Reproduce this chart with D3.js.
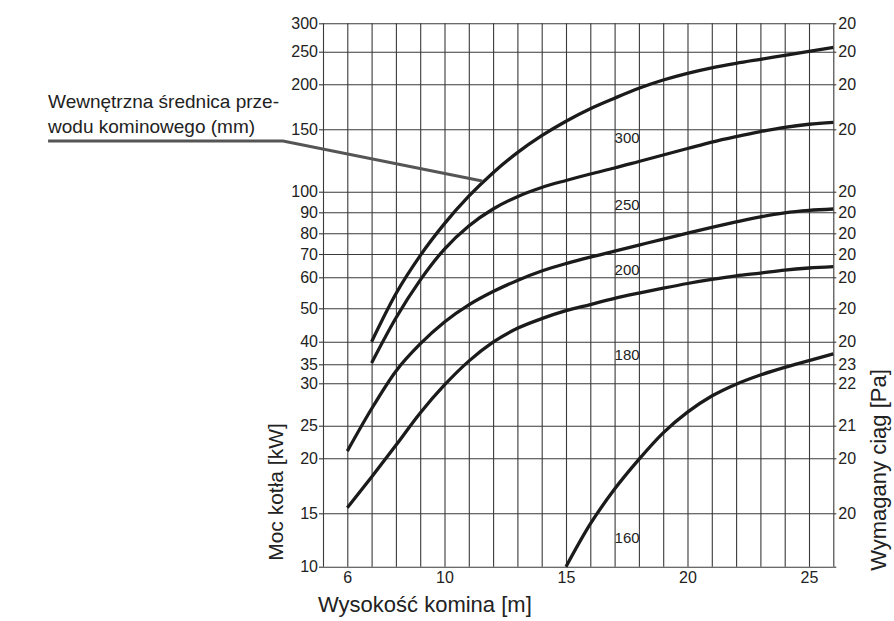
<!DOCTYPE html>
<html>
<head>
<meta charset="utf-8">
<script src="https://cdn.jsdelivr.net/npm/d3@7"></script>
<style>
    body { margin: 0; background: #fff; }
    text { font-family: "Liberation Sans", Arial, sans-serif; fill: #222; }
</style>
</head>
<body>
<svg id="chart" width="894" height="621"></svg>
<script>
// y axis values (the printed scale is not a clean log scale)
const yTicks = [300, 250, 200, 150, 100, 90, 80, 70, 60, 50, 40, 35, 30, 25, 20, 15, 10];
const rightLabels = ["20", "20", "20", "20", "20", "20", "20", "20", "20", "20", "20", "23", "22", "21", "20", "20", ""];
const xTickLabels = [6, 10, 15, 20, 25];

// curves: chimney inner diameter (mm)
const curveNames = ["300", "250", "200", "180", "160"];
const x300 = [7, 8, 9, 10, 11, 12, 13, 14, 15, 16, 17, 18, 19, 20, 21, 22, 23, 24, 25, 26];
const y300 = [40, 54.7, 69.3, 84.6, 97.8, 115.2, 131.3, 144.9, 159, 172.9, 184.6, 195.6, 206.6, 216.9, 225.3, 232.2, 238.3, 244.3, 250.4, 257.4];
const x250 = [7, 8, 9, 10, 11, 12, 13, 14, 15, 16, 17, 18, 19, 20, 21, 22, 23, 24, 25, 26];
const y250 = [35.3, 47.1, 59.1, 72.4, 83.5, 91.6, 97.6, 103.4, 109, 114.2, 119, 124.2, 129.4, 134.6, 139.8, 144.2, 148.2, 152.2, 155.6, 157.8];
const x200 = [6, 7, 8, 9, 10, 11, 12, 13, 14, 15, 16, 17, 18, 19, 20, 21, 22, 23, 24, 25, 26];
const y200 = [21.1, 27, 33.2, 39.5, 45.9, 51.1, 55.4, 59, 62.7, 65.9, 68.7, 71.4, 74.3, 77.2, 80.1, 82.8, 85.4, 87.8, 89.7, 90.9, 91.6];
const x180 = [6, 7, 8, 9, 10, 11, 12, 13, 14, 15, 16, 17, 18, 19, 20, 21, 22, 23, 24, 25, 26];
const y180 = [15.5, 18.3, 22, 26.5, 29.8, 35.7, 39.9, 44, 46.9, 49.3, 51.2, 53.2, 54.9, 56.5, 58, 59.3, 60.6, 61.8, 63.1, 64, 64.6];
const x160 = [15, 16, 17, 18, 19, 20, 21, 22, 23, 24, 25, 26];
const y160 = [10, 14, 17.2, 19.9, 23.9, 26.6, 28.5, 29.9, 32.2, 34.2, 35.8, 37.3];

const labelX = [17, 17, 17, 17, 17];
const labelY = [138.8, 91.1, 61, 36, 12.2];

// annotation target on the 300 mm curve
const noteTarget = [11.55, 108.5];
const noteLines = ["Wewnętrzna średnica prze-", "wodu kominowego (mm)"];

// layout
const plotLeft = 323, plotRight = 833.3, plotTop = 23.3, plotBottom = 566.7;
// pixel offset of each y tick from the top of the plot
const yTickPos = [0, 28.4, 61, 106, 168.4, 189, 210, 230.7, 254, 285, 318.4, 341, 360, 402.4, 435, 490, 543.4];

const svg = d3.select("#chart");
svg.append("rect").attr("width", 894).attr("height", 621).attr("fill", "#fff");

const x = d3.scaleLinear().domain([5, 26]).range([plotLeft, plotRight]);
const y = d3.scaleLinear().domain(yTicks).range(yTickPos.map(p => plotTop + p));

const gridColor = "#3a3a3a";
const font = "Liberation Sans, Arial, sans-serif";

// vertical grid
svg.append("g")
    .attr("transform", `translate(0,${plotBottom})`)
    .call(d3.axisBottom(x).tickValues(d3.range(5, 27)).tickSize(-(plotBottom - plotTop)).tickFormat(""))
    .call(g => g.select(".domain").remove())
    .call(g => g.selectAll("line").attr("stroke", gridColor).attr("stroke-width", 1.1));

// left axis + horizontal grid
svg.append("g")
    .attr("transform", `translate(${plotLeft},0)`)
    .call(d3.axisLeft(y).tickValues(yTicks).tickSize(4).tickPadding(1).tickFormat(d3.format("d")))
    .call(g => g.select(".domain").remove())
    .call(g => g.selectAll("line").attr("stroke", gridColor).attr("stroke-width", 1.1))
    .call(g => g.selectAll(".tick").append("line")
        .attr("x2", plotRight - plotLeft).attr("stroke", gridColor).attr("stroke-width", 1.1))
    .call(g => g.selectAll("text").attr("font-size", 16).attr("fill", "#222").attr("font-family", font));

// right axis
svg.append("g")
    .attr("transform", `translate(${plotRight},0)`)
    .call(d3.axisRight(y).tickValues(yTicks).tickSize(3).tickPadding(2).tickFormat((d, i) => rightLabels[i]))
    .call(g => g.select(".domain").remove())
    .call(g => g.selectAll("line").attr("stroke", gridColor).attr("stroke-width", 1.1))
    .call(g => g.selectAll("text").attr("font-size", 16).attr("fill", "#222").attr("font-family", font));

// bottom labels
svg.append("g")
    .attr("transform", `translate(0,${plotBottom})`)
    .call(d3.axisBottom(x).tickValues(xTickLabels).tickSize(0).tickPadding(5))
    .call(g => g.select(".domain").remove())
    .call(g => g.selectAll("text").attr("font-size", 16).attr("fill", "#222").attr("font-family", font));

// curves
const series = [
    d3.zip(x300, y300), d3.zip(x250, y250), d3.zip(x200, y200), d3.zip(x180, y180), d3.zip(x160, y160)
];
const line = d3.line().x(d => x(d[0])).y(d => y(d[1])).curve(d3.curveMonotoneX);
svg.append("g").selectAll("path")
    .data(series)
    .join("path")
    .attr("d", line)
    .attr("fill", "none")
    .attr("stroke", "#1b1b1b")
    .attr("stroke-width", 3.3);

svg.append("g").selectAll("text")
    .data(curveNames)
    .join("text")
    .attr("x", (d, i) => x(labelX[i]))
    .attr("y", (d, i) => y(labelY[i]))
    .attr("font-size", 15)
    .text(d => d);

// annotation
const note = svg.append("g");
const noteText = note.selectAll("text")
    .data(noteLines)
    .join("text")
    .attr("font-size", 19)
    .attr("y", (d, i) => 108 + i * 25)
    .text(d => d);
const w0 = noteText.nodes()[0].getComputedTextLength();
const noteLeft = 279 - w0;
noteText.attr("x", noteLeft);
note.append("path")
    .attr("d", d3.line()([[noteLeft, 141], [283, 141], [x(noteTarget[0]), y(noteTarget[1])]]))
    .attr("fill", "none")
    .attr("stroke", "#555")
    .attr("stroke-width", 3);

// axis titles
svg.append("text")
    .attr("x", 318).attr("y", 612)
    .attr("font-size", 22)
    .text("Wysokość komina [m]");
svg.append("text")
    .attr("transform", "translate(283,492) rotate(-90)")
    .attr("text-anchor", "middle")
    .attr("font-size", 21)
    .text("Moc kotła [kW]");
svg.append("text")
    .attr("transform", "translate(886,470) rotate(-90)")
    .attr("text-anchor", "middle")
    .attr("font-size", 22)
    .text("Wymagany ciąg [Pa]");
</script>
</body>
</html>
